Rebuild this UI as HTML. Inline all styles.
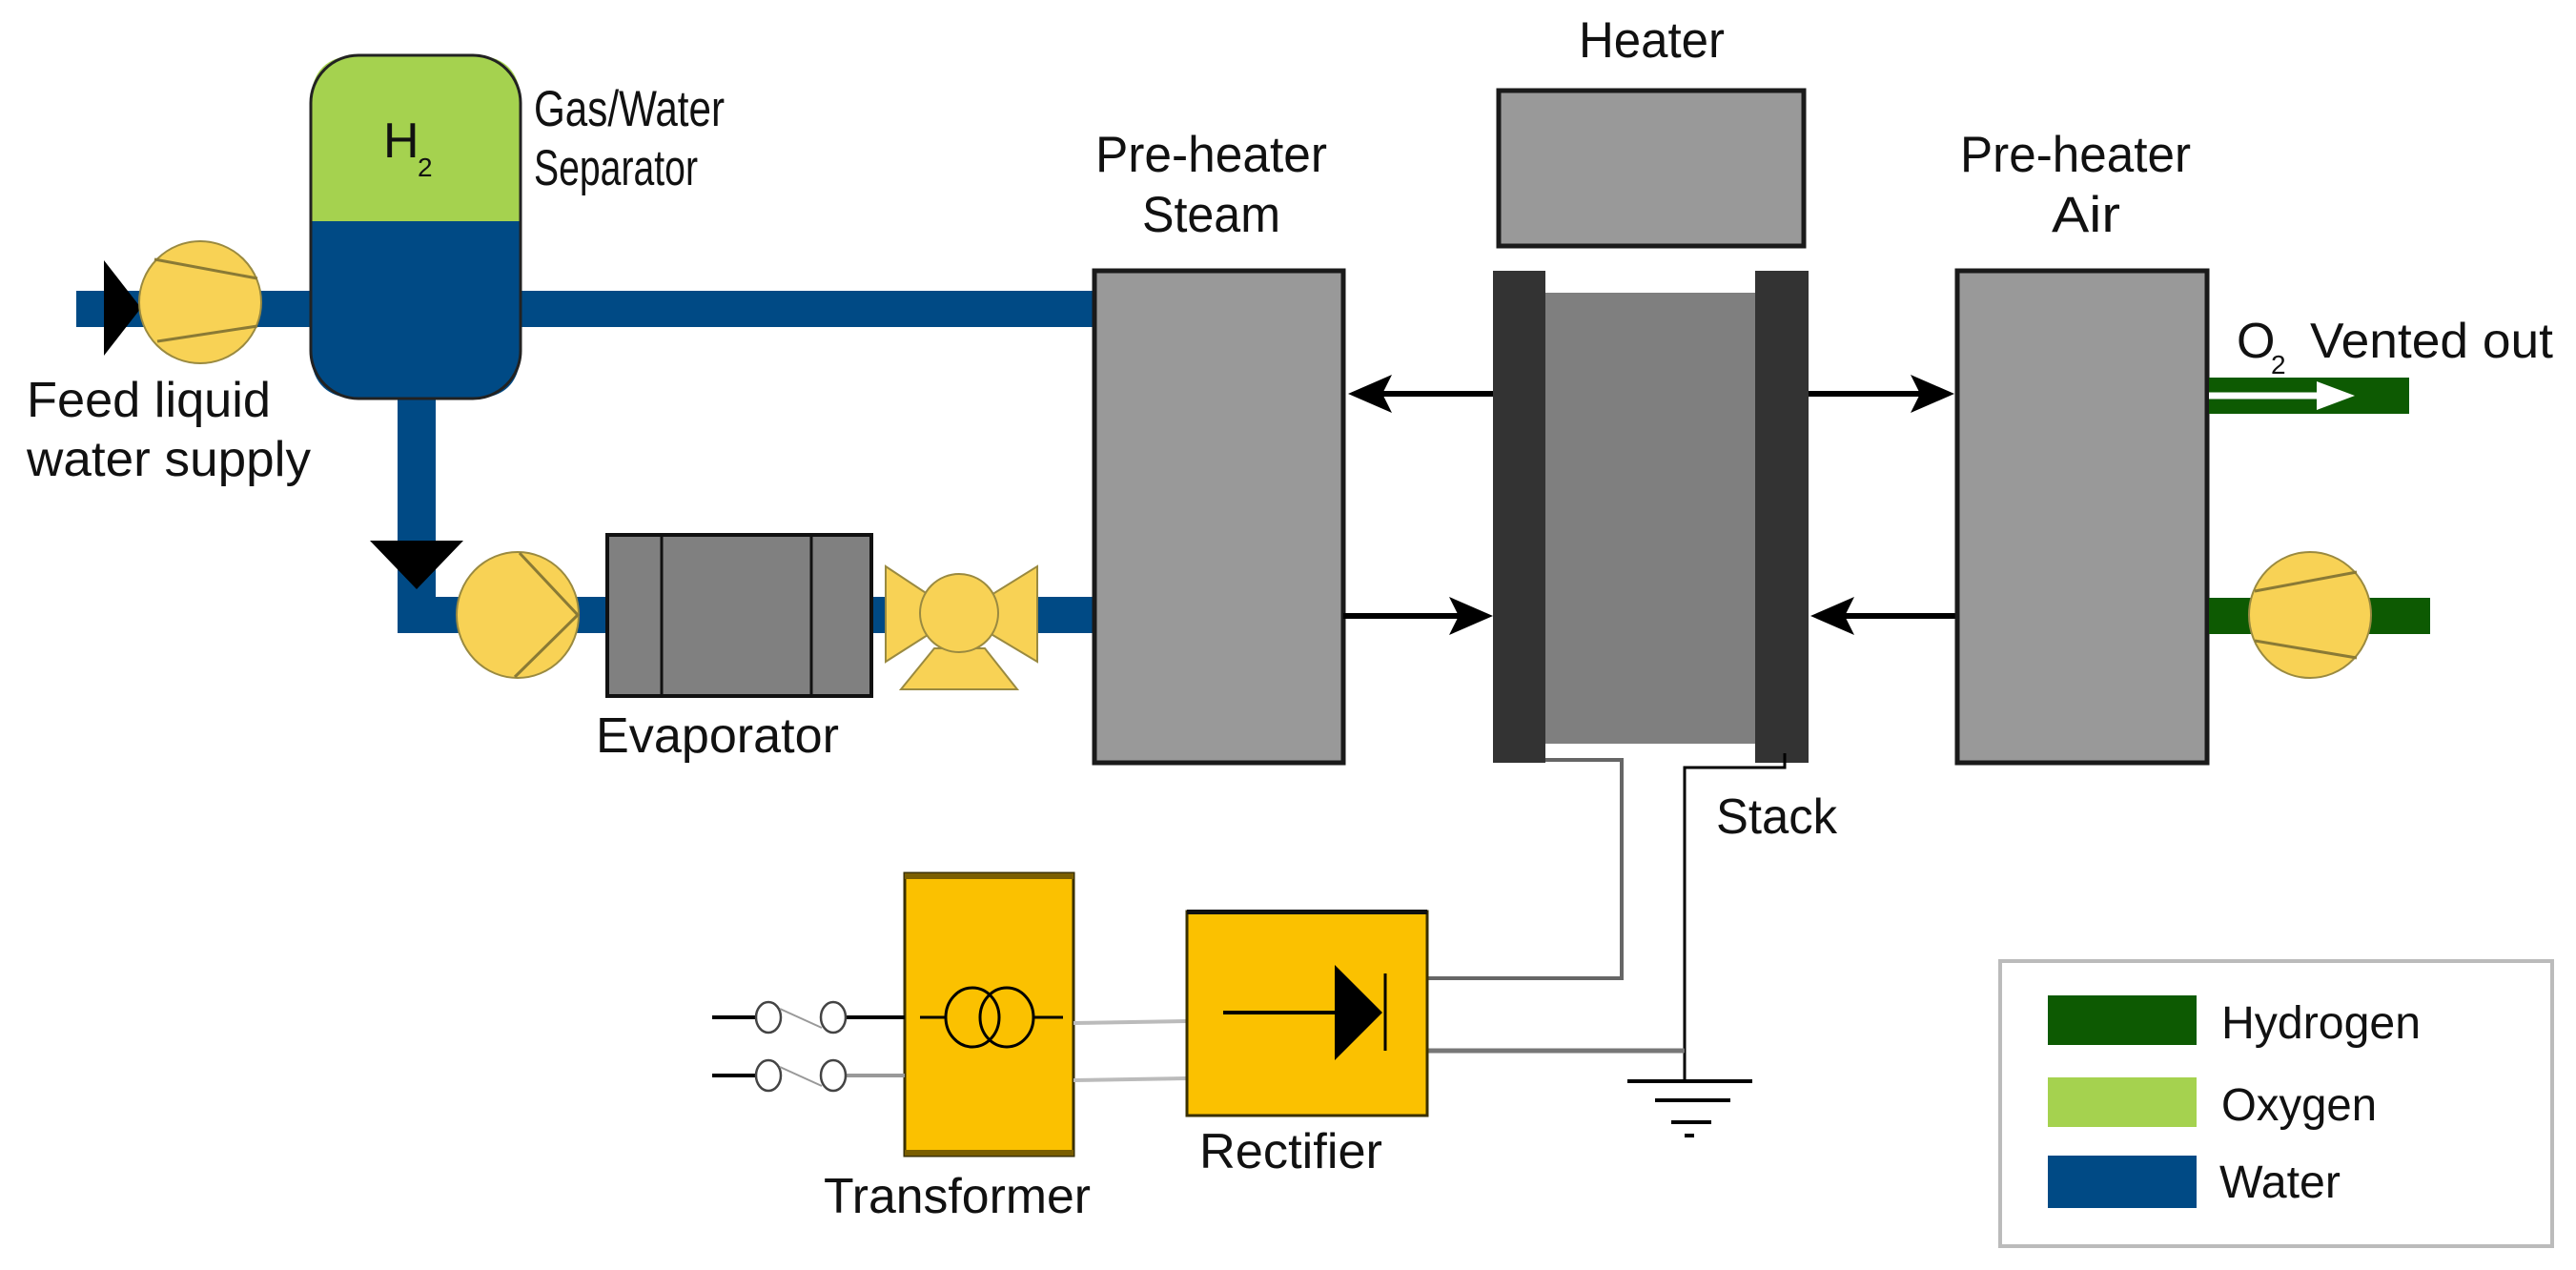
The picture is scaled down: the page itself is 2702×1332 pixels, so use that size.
<!DOCTYPE html>
<html><head><meta charset="utf-8"><style>
html,body{margin:0;padding:0;background:#fff;}
svg{display:block;}
text{font-family:"Liberation Sans",sans-serif;fill:#111;}
</style></head><body>
<svg width="2702" height="1332" viewBox="0 0 2702 1332" xmlns="http://www.w3.org/2000/svg">
<!-- water pipes -->
<rect x="80" y="305" width="1068" height="38" fill="#004a85"/>
<rect x="417" y="400" width="40" height="264" fill="#004a85"/>
<rect x="417" y="626" width="731" height="38" fill="#004a85"/>
<!-- separator tank -->
<path d="M326,232 V108 Q326,58 376,58 H496 Q546,58 546,108 V232 Z" fill="#a5d24f"/>
<path d="M326,232 H546 V368 Q546,418 496,418 H376 Q326,418 326,368 Z" fill="#004a85"/>
<rect x="326" y="58" width="220" height="360" rx="50" fill="none" stroke="#222" stroke-width="3"/>
<text x="402" y="165" font-size="52">H</text>
<text x="438" y="185" font-size="28" fill="#333">2</text>
<text x="560" y="132" font-size="53" textLength="200" lengthAdjust="spacingAndGlyphs">Gas/Water</text>
<text x="560" y="194" font-size="53" textLength="172" lengthAdjust="spacingAndGlyphs">Separator</text>
<!-- feed check valve + pump -->
<polygon points="109,273 109,373 148,323" fill="#000"/>
<circle cx="210" cy="317" r="64" fill="#f8d255" stroke="#9a8a40" stroke-width="2"/>
<line x1="162" y1="272" x2="270" y2="292" stroke="#8a7a35" stroke-width="3"/>
<line x1="165" y1="358" x2="270" y2="342" stroke="#8a7a35" stroke-width="3"/>
<text x="28" y="437" font-size="52" textLength="256" lengthAdjust="spacingAndGlyphs">Feed liquid</text>
<text x="28" y="499" font-size="52" textLength="298" lengthAdjust="spacingAndGlyphs">water supply</text>
<!-- down check valve + pump 2 -->
<polygon points="388,567 486,567 437,618" fill="#000"/>
<ellipse cx="543" cy="645" rx="64" ry="66" fill="#f8d255" stroke="#9a8a40" stroke-width="2"/>
<polyline points="545,580 606,645 540,710" fill="none" stroke="#8a7a35" stroke-width="3"/>
<!-- evaporator -->
<rect x="637" y="561" width="277" height="169" fill="#808080" stroke="#111" stroke-width="4"/>
<line x1="694" y1="561" x2="694" y2="730" stroke="#111" stroke-width="3"/>
<line x1="851" y1="561" x2="851" y2="730" stroke="#111" stroke-width="3"/>
<text x="625" y="789" font-size="52" textLength="255" lengthAdjust="spacingAndGlyphs">Evaporator</text>
<!-- valve -->
<polygon points="929,594 929,694 1006,645" fill="#f8d255" stroke="#9a8a40" stroke-width="2"/>
<polygon points="1088,594 1088,694 1006,645" fill="#f8d255" stroke="#9a8a40" stroke-width="2"/>
<polygon points="945,723 1067,723 1033,680 980,680" fill="#f8d255" stroke="#9a8a40" stroke-width="2"/>
<circle cx="1006" cy="643" r="41" fill="#f8d255" stroke="#9a8a40" stroke-width="2"/>
<!-- pre-heater steam -->
<rect x="1148" y="284" width="261" height="516" fill="#999" stroke="#1a1a1a" stroke-width="5"/>
<text x="1149" y="180" font-size="53" textLength="243" lengthAdjust="spacingAndGlyphs">Pre-heater</text>
<text x="1198" y="243" font-size="53" textLength="145" lengthAdjust="spacingAndGlyphs">Steam</text>
<!-- heater -->
<rect x="1572" y="95" width="320" height="163" fill="#999" stroke="#1a1a1a" stroke-width="5"/>
<text x="1656" y="60" font-size="53" textLength="153" lengthAdjust="spacingAndGlyphs">Heater</text>
<!-- stack -->
<rect x="1621" y="307" width="220" height="473" fill="#7f7f7f"/>
<rect x="1566" y="284" width="55" height="516" fill="#333"/>
<rect x="1841" y="284" width="56" height="516" fill="#333"/>
<text x="1800" y="874" font-size="52" textLength="127" lengthAdjust="spacingAndGlyphs">Stack</text>
<!-- arrows -->
<g stroke="#000" stroke-width="6">
<line x1="1566" y1="413" x2="1440" y2="413"/>
<line x1="1409" y1="646" x2="1540" y2="646"/>
<line x1="1897" y1="413" x2="2025" y2="413"/>
<line x1="2053" y1="646" x2="1922" y2="646"/>
</g>
<polygon points="1414,413 1460,393 1450,413 1460,433" fill="#000"/>
<polygon points="1566,646 1520,626 1530,646 1520,666" fill="#000"/>
<polygon points="2050,413 2004,393 2014,413 2004,433" fill="#000"/>
<polygon points="1899,646 1945,626 1935,646 1945,666" fill="#000"/>
<!-- pre-heater air -->
<rect x="2053" y="284" width="262" height="516" fill="#999" stroke="#1a1a1a" stroke-width="5"/>
<text x="2056" y="180" font-size="53" textLength="242" lengthAdjust="spacingAndGlyphs">Pre-heater</text>
<text x="2152" y="243" font-size="53" textLength="72" lengthAdjust="spacingAndGlyphs">Air</text>
<!-- O2 out -->
<rect x="2317" y="396" width="210" height="38" fill="#0d5a02"/>
<line x1="2317" y1="415" x2="2440" y2="415" stroke="#fff" stroke-width="7"/>
<polygon points="2430,400 2470,415 2430,430" fill="#fff"/>
<text x="2346" y="375" font-size="52">O</text>
<text x="2382" y="392" font-size="28" fill="#333">2</text>
<text x="2423" y="375" font-size="52" textLength="255" lengthAdjust="spacingAndGlyphs">Vented out</text>
<!-- air inlet -->
<rect x="2317" y="627" width="232" height="38" fill="#0d5a02"/>
<ellipse cx="2423" cy="645" rx="64" ry="66" fill="#f8d255" stroke="#9a8a40" stroke-width="2"/>
<line x1="2365" y1="620" x2="2472" y2="600" stroke="#8a7a35" stroke-width="3"/>
<line x1="2365" y1="672" x2="2472" y2="690" stroke="#8a7a35" stroke-width="3"/>
<!-- wires -->
<polyline points="1621,797 1701,797 1701,1026 1497,1026" fill="none" stroke="#666" stroke-width="4"/>
<polyline points="1872,790 1872,805 1767,805 1767,1134" fill="none" stroke="#000" stroke-width="3"/>
<line x1="1497" y1="1102" x2="1767" y2="1102" stroke="#777" stroke-width="5"/>
<g stroke="#000" stroke-width="4">
<line x1="1707" y1="1134" x2="1838" y2="1134"/>
<line x1="1736" y1="1154" x2="1815" y2="1154"/>
<line x1="1753" y1="1177" x2="1795" y2="1177"/>
<line x1="1767" y1="1191" x2="1777" y2="1191"/>
</g>
<!-- transformer -->
<rect x="949" y="916" width="177" height="296" fill="#fbc100" stroke="#3a3000" stroke-width="3"/>
<rect x="949" y="916" width="177" height="6" fill="#7a5e00"/>
<rect x="949" y="1206" width="177" height="6" fill="#7a5e00"/>
<g stroke="#000" stroke-width="3" fill="none">
<ellipse cx="1020" cy="1067" rx="28" ry="31"/>
<ellipse cx="1056" cy="1067" rx="28" ry="31"/>
<line x1="965" y1="1067" x2="992" y2="1067"/>
<line x1="1084" y1="1067" x2="1115" y2="1067"/>
</g>
<text x="864" y="1272" font-size="52" textLength="280" lengthAdjust="spacingAndGlyphs">Transformer</text>
<!-- switches -->
<g stroke="#000" stroke-width="4">
<line x1="747" y1="1067" x2="793" y2="1067"/>
<line x1="887" y1="1067" x2="949" y2="1067"/>
<line x1="747" y1="1128" x2="793" y2="1128"/>
</g>
<line x1="887" y1="1128" x2="949" y2="1128" stroke="#999" stroke-width="4"/>
<g stroke="#444" stroke-width="2.5" fill="#fff">
<ellipse cx="806" cy="1067" rx="13" ry="16"/>
<ellipse cx="874" cy="1067" rx="13" ry="16"/>
<ellipse cx="806" cy="1128" rx="13" ry="16"/>
<ellipse cx="874" cy="1128" rx="13" ry="16"/>
</g>
<line x1="818" y1="1058" x2="862" y2="1078" stroke="#999" stroke-width="2"/>
<line x1="818" y1="1119" x2="862" y2="1139" stroke="#999" stroke-width="2"/>
<!-- transformer to rectifier -->
<line x1="1126" y1="1073" x2="1245" y2="1071" stroke="#bbb" stroke-width="4"/>
<line x1="1126" y1="1133" x2="1245" y2="1131" stroke="#bbb" stroke-width="4"/>
<!-- rectifier -->
<rect x="1245" y="956" width="252" height="214" fill="#fbc100" stroke="#3a3000" stroke-width="3"/>
<rect x="1245" y="954" width="252" height="5" fill="#111"/>
<line x1="1283" y1="1062" x2="1400" y2="1062" stroke="#000" stroke-width="4"/>
<polygon points="1400,1012 1400,1112 1450,1062" fill="#000"/>
<line x1="1453" y1="1021" x2="1453" y2="1102" stroke="#000" stroke-width="3"/>
<text x="1258" y="1225" font-size="52" textLength="192" lengthAdjust="spacingAndGlyphs">Rectifier</text>
<!-- legend -->
<rect x="2098" y="1008" width="579" height="299" fill="#fff" stroke="#bbb" stroke-width="4"/>
<rect x="2148" y="1044" width="156" height="52" fill="#0d5a02"/>
<rect x="2148" y="1130" width="156" height="52" fill="#a5d24f"/>
<rect x="2148" y="1212" width="156" height="55" fill="#004a85"/>
<text x="2330" y="1089" font-size="48" textLength="209" lengthAdjust="spacingAndGlyphs">Hydrogen</text>
<text x="2330" y="1175" font-size="48" textLength="163" lengthAdjust="spacingAndGlyphs">Oxygen</text>
<text x="2328" y="1256" font-size="48" textLength="127" lengthAdjust="spacingAndGlyphs">Water</text>
</svg>
</body></html>
